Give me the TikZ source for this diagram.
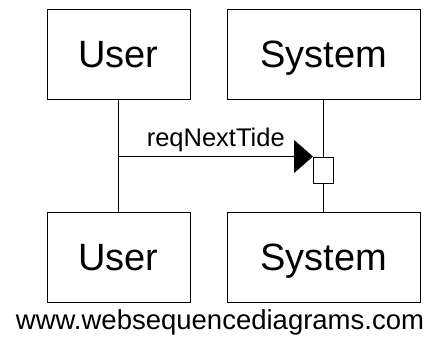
\documentclass[tikz,border=0pt]{standalone}
\usepackage{fontspec}
\setmainfont{Liberation Sans}
\usetikzlibrary{arrows.meta}

\begin{document}
\begin{tikzpicture}[x=1pt, y=-1pt, line width=1pt,
		actor/.style={draw, minimum height=90pt, inner sep=0pt, text height=28pt, text depth=2pt, font=\fontsize{38}{40}\selectfont},
		activation/.style={draw, fill=white, minimum width=20pt, minimum height=26pt, inner sep=0pt}]
	\useasboundingbox (0,0) rectangle (437,340);
	% Define nodes
	\node[actor, minimum width=143pt] (userTop) at (118.5,54) {User};        % Top user box
	\node[actor, minimum width=193pt] (systemTop) at (323.5,54) {System};    % Top system box
	\node[actor, minimum width=143pt] (userBot) at (118.5,257) {User};       % Bottom user box
	\node[actor, minimum width=193pt] (systemBot) at (323.5,257) {System};   % Bottom system box
	\node[activation] (act) at (323.5,170) {};                               % Activation box
	\coordinate (msgStart) at (userTop.south |- act.north west);
	\node[font=\fontsize{27.5}{30}\selectfont] (footer) at (220,322) {www.websequencediagrams.com};
	
	% Connect nodes
	\draw (userTop) -- (userBot);
	\draw (systemTop) -- (act);
	\draw (act) -- (systemBot);
	\draw[-{Triangle[length=19pt, width=33pt]}] (msgStart) -- (act.north west)
		node[midway, above=1pt, font=\fontsize{25.5}{28}\selectfont] (msgLabel) {reqNextTide};
\end{tikzpicture}
\end{document}
